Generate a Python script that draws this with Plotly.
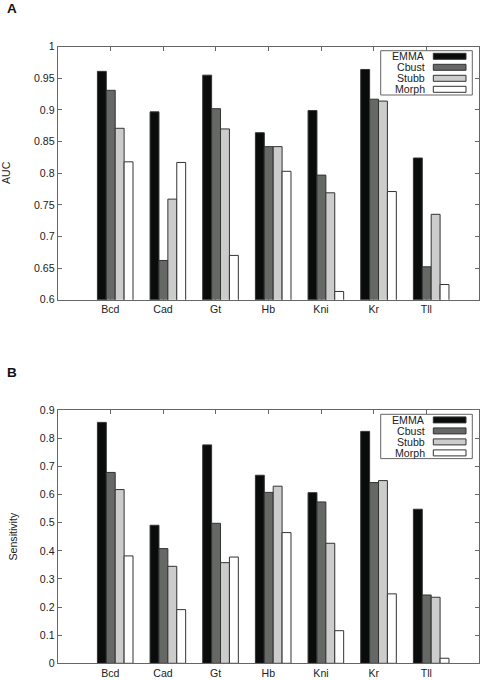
import plotly.graph_objects as go

genes = ["Bcd", "Cad", "Gt", "Hb", "Kni", "Kr", "Tll"]
methods = ["EMMA", "Cbust", "Stubb", "Morph"]

auc_emma = [0.961, 0.897, 0.955, 0.864, 0.899, 0.964, 0.824]
auc_cbust = [0.931, 0.662, 0.902, 0.842, 0.797, 0.917, 0.652]
auc_stubb = [0.871, 0.759, 0.870, 0.842, 0.769, 0.914, 0.735]
auc_morph = [0.818, 0.817, 0.670, 0.803, 0.613, 0.771, 0.624]

sens_emma = [0.857, 0.491, 0.777, 0.669, 0.607, 0.825, 0.548]
sens_cbust = [0.679, 0.408, 0.498, 0.608, 0.574, 0.643, 0.243]
sens_stubb = [0.618, 0.345, 0.358, 0.630, 0.427, 0.650, 0.235]
sens_morph = [0.382, 0.191, 0.378, 0.465, 0.116, 0.247, 0.018]

auc_ticks = [0.6, 0.65, 0.7, 0.75, 0.8, 0.85, 0.9, 0.95, 1]
auc_ticktext = ["0.6", "0.65", "0.7", "0.75", "0.8", "0.85", "0.9", "0.95", "1"]
sens_ticks = [0, 0.1, 0.2, 0.3, 0.4, 0.5, 0.6, 0.7, 0.8, 0.9]
sens_ticktext = ["0", "0.1", "0.2", "0.3", "0.4", "0.5", "0.6", "0.7", "0.8", "0.9"]

# styles
fills = ["#0a0c0c", "#666866", "#cccccc", "#ffffff"]
edge = "#333333"
axcol = "#666666"
FONT = "Liberation Sans, Arial, sans-serif"
FS = 10.6
W, H = 481, 680
bar_w = 0.169
group_left = -0.246

def px(x):
    return x / W

def py(y):
    return 1 - y / H

fig = go.Figure()

panels = [
    ("x", "y", [auc_emma, auc_cbust, auc_stubb, auc_morph]),
    ("x2", "y2", [sens_emma, sens_cbust, sens_stubb, sens_morph]),
]
for xa, ya, series in panels:
    for i, (name, vals) in enumerate(zip(methods, series)):
        fig.add_trace(go.Bar(
            x=genes, y=vals, name=name, xaxis=xa, yaxis=ya,
            width=bar_w, offset=group_left + i * bar_w,
            marker=dict(color=fills[i], line=dict(color=edge, width=1)),
            showlegend=False,
        ))

xcommon = dict(
    type="category", range=[-1, 7], domain=[px(57.7), px(479)],
    showline=True, linecolor=axcol, linewidth=1, mirror="ticks",
    ticks="inside", ticklen=4, tickcolor=axcol, showgrid=False, zeroline=False,
    tickfont=dict(family=FONT, size=FS, color="#222222"), automargin=False,
)
ycommon = dict(
    showline=True, linecolor=axcol, linewidth=1, mirror="ticks",
    ticks="inside", ticklen=4, tickcolor=axcol, showgrid=False, zeroline=False,
    tickfont=dict(family=FONT, size=FS, color="#222222"), automargin=False,
)

fig.update_layout(
    width=W, height=H, margin=dict(l=0, r=0, t=0, b=0),
    paper_bgcolor="white", plot_bgcolor="white",
    barmode="overlay", showlegend=False,
    font=dict(family=FONT, size=FS, color="#222222"),
    xaxis=dict(**xcommon, anchor="y"),
    yaxis=dict(**ycommon, anchor="x", domain=[py(299.7), py(46.7)], range=[0.6, 1],
               tickvals=auc_ticks, ticktext=auc_ticktext),
    xaxis2=dict(**xcommon, anchor="y2"),
    yaxis2=dict(**ycommon, anchor="x2", domain=[py(663.3), py(410.3)], range=[0, 0.9],
                tickvals=sens_ticks, ticktext=sens_ticktext),
)

annotations = [
    dict(text="<b>A</b>", x=px(5), y=py(8.5), xref="paper", yref="paper",
         xanchor="left", yanchor="middle", showarrow=False,
         font=dict(family=FONT, size=13.5, color="#111111")),
    dict(text="<b>B</b>", x=px(5), y=py(372), xref="paper", yref="paper",
         xanchor="left", yanchor="middle", showarrow=False,
         font=dict(family=FONT, size=13.5, color="#111111")),
    dict(text="AUC", x=px(6), y=py(173), xref="paper", yref="paper",
         xanchor="center", yanchor="middle", textangle=-90, showarrow=False,
         font=dict(family=FONT, size=FS, color="#222222")),
    dict(text="Sensitivity", x=px(12.5), y=py(537), xref="paper", yref="paper",
         xanchor="center", yanchor="middle", textangle=-90, showarrow=False,
         font=dict(family=FONT, size=FS, color="#222222")),
]
shapes = []

# manual legends (text left of a wide swatch), one per panel
for top in (50.7, 414.3):
    bottom = top + 44.3
    shapes.append(dict(type="rect", xref="paper", yref="paper",
                       x0=px(380.7), x1=px(472.3), y0=py(bottom), y1=py(top),
                       line=dict(color=axcol, width=1), fillcolor="white", layer="above"))
    for i, name in enumerate(methods):
        cy = top + 5.6 + i * 11.0
        annotations.append(dict(text=name, x=px(426.5), y=py(cy), xref="paper", yref="paper",
                                xanchor="right", yanchor="middle", showarrow=False,
                                font=dict(family=FONT, size=FS, color="#222222")))
        shapes.append(dict(type="rect", xref="paper", yref="paper",
                           x0=px(433.3), x1=px(466), y0=py(cy + 3), y1=py(cy - 3),
                           line=dict(color=edge, width=1), fillcolor=fills[i], layer="above"))

fig.update_layout(annotations=annotations, shapes=shapes)
fig.write_html("out.html", config={"displayModeBar": False},
               post_script="document.body.style.margin='0';document.body.style.padding='0';")
